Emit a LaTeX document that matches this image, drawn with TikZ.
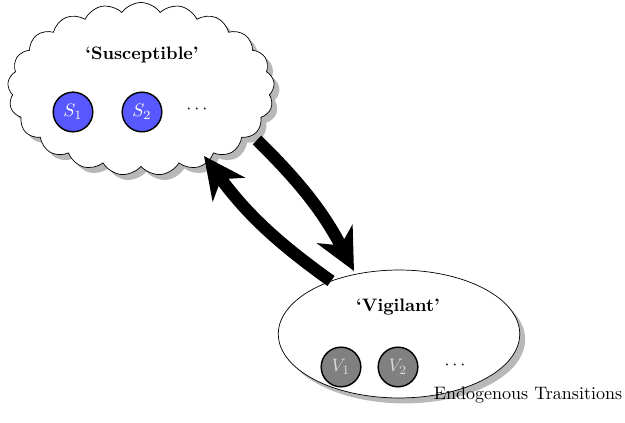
\documentclass[tikz,border=0pt]{standalone}
\usetikzlibrary{shapes.symbols,shapes.geometric,shadows,arrows.meta}
\definecolor{sblue}{RGB}{88,88,255}
\definecolor{vgray}{RGB}{128,128,128}
\tikzset{
  group/.style={draw, fill=white, drop shadow={shadow xshift=3pt, shadow yshift=-3pt, fill=black!28, opacity=1}},
  sstate/.style={circle, draw, line width=0.8pt, fill=sblue, text=white, minimum size=22pt, inner sep=0pt},
  vstate/.style={circle, draw, line width=0.8pt, fill=vgray, text=black!15, minimum size=22pt, inner sep=0pt},
  bigarrow/.style={line width=6.8pt, -{Stealth[length=23pt,width=22pt,inset=7pt]}},
}
\begin{document}
\begin{tikzpicture}[x=0.555pt,y=-0.555pt]
\useasboundingbox (0,0) rectangle (625,423);
\node[group, cloud, cloud puffs=21, cloud puff arc=110, aspect=1.6, minimum width=148pt, minimum height=96pt, inner sep=0pt] (cloud) at (141,89) {};
\node[group, ellipse, minimum width=134pt, minimum height=71pt] (ell) at (399,334) {};
\node[font=\bfseries] (stitle) at (142,55) {`Susceptible'};
\node[sstate] (s1) at (73,112) {$S_1$};
\node[sstate] (s2) at (142,112) {$S_2$};
\node (sdots) at (197,110) {$\cdots$};
\node[font=\bfseries] (vtitle) at (398,307) {`Vigilant'};
\node[vstate] (v1) at (341,367) {$V_1$};
\node[vstate] (v2) at (398,367) {$V_2$};
\node (vdots) at (455,365) {$\cdots$};
\node (endo) at (528,395) {Endogenous Transitions};
\coordinate (a1s) at (257,140);
\coordinate (a1e) at (354,271);
\coordinate (a2s) at (331,281);
\coordinate (a2e) at (204,156);
\draw[bigarrow] (a1s) to[bend left=9] (a1e);
\draw[bigarrow] (a2s) to[bend left=9] (a2e);
\end{tikzpicture}
\end{document}
